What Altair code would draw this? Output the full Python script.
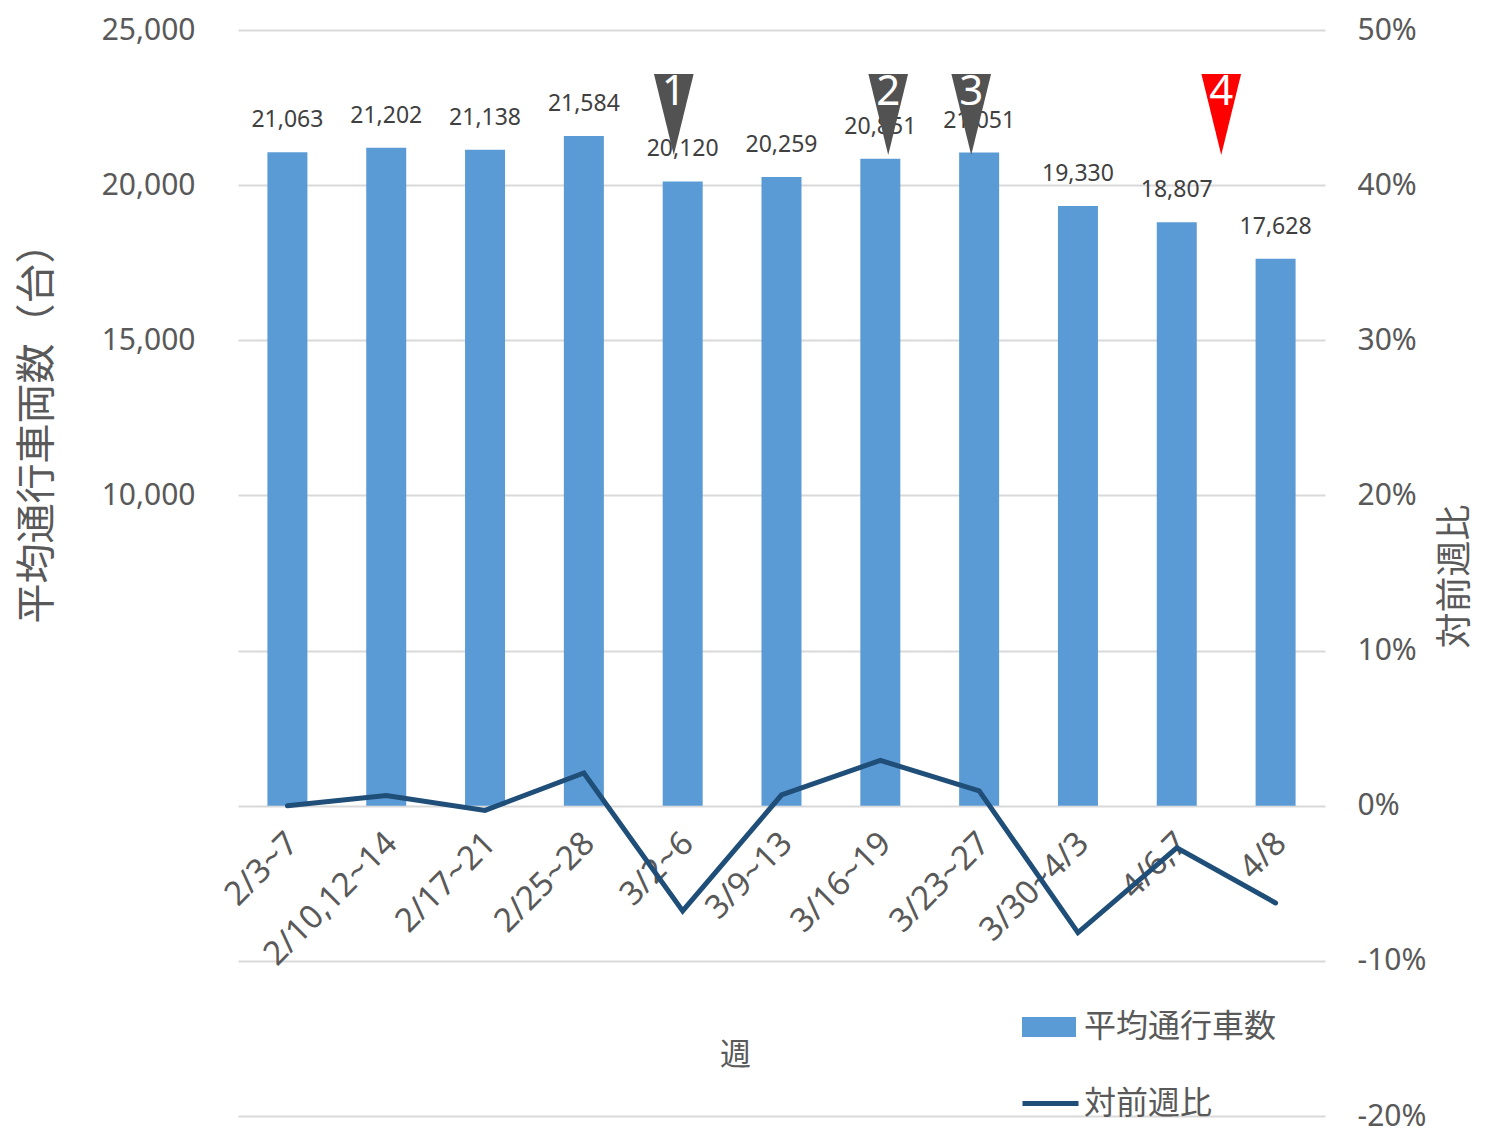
import altair as alt
import pandas as pd

# ---- data ----
weeks = ["2/3~7", "2/10,12~14", "2/17~21", "2/25~28", "3/2~6", "3/9~13",
         "3/16~19", "3/23~27", "3/30~4/3", "4/6,7", "4/8"]
avg_vehicles = [21063, 21202, 21138, 21584, 20120, 20259, 20851, 21051, 19330, 18807, 17628]
wow_change = [0.0, 0.0066, -0.0030, 0.0211, -0.0678, 0.0069, 0.0292, 0.0096, -0.0818, -0.0271, -0.0627]
event_labels = ["1", "2", "3", "4"]
event_positions = [3.91, 6.08, 6.92, 9.45]   # in week-index units
bar_series = "平均通行車数"
line_series = "対前週比"

FONT = "Noto Sans, Noto Sans CJK JP"
GREY = "#595959"
W, H = 1087, 1086
Y_DOMAIN = [-10000, 25000]
R_DOMAIN = [-0.2, 0.5]
MARKER_LEVEL = 22275
MARKER_TEXT_LEVEL = 23000

y0 = H * Y_DOMAIN[1] / (Y_DOMAIN[1] - Y_DOMAIN[0])
x_axis_offset = -(H - y0)

df = pd.DataFrame({
    "x": list(range(len(weeks))),
    "week": weeks,
    "value": avg_vehicles,
    "wow": wow_change,
    "s1": bar_series,
    "s2": line_series,
})
ev = pd.DataFrame({"x": event_positions, "label": event_labels})

label_expr = "[" + ",".join("'" + w + "'" for w in weeks) + "][datum.value]"

x_scale = alt.Scale(domain=[-0.5, len(weeks) - 0.5], nice=False, zero=False, padding=0)
x_axis = alt.Axis(
    values=list(range(len(weeks))), labelExpr=label_expr, labelAngle=-45,
    labelAlign="right", labelBaseline="middle", labelPadding=32, labelOffset=5,
    labelFontSize=33, labelColor=GREY, labelOverlap=False, labelFlush=False,
    labelBound=False, domain=False, ticks=False, grid=False, offset=x_axis_offset,
    title="週", titleFontSize=31, titleColor=GREY, titleFontWeight="normal",
    titleX=497, titleY=250, titleAlign="center", titleBaseline="middle",
)
X = alt.X("x:Q", scale=x_scale, axis=x_axis)

y_scale = alt.Scale(domain=Y_DOMAIN, nice=False, zero=False)
y_axis = alt.Axis(
    orient="left", values=[10000, 15000, 20000, 25000],
    labelExpr="format(datum.value, ',')",
    labelFontSize=30, labelColor=GREY, labelPadding=43,
    domain=False, ticks=False, grid=False,
    title="平均通行車両数（台）", titleFontSize=40, titleColor=GREY,
    titleFontWeight="normal", titleAngle=270, titleX=-201, titleY=393,
    titleAlign="center", titleBaseline="middle",
)
Y = alt.Y("value:Q", scale=y_scale, axis=y_axis)

bars = alt.Chart(df).mark_bar(size=40).encode(
    x=X, y=Y,
    color=alt.Color("s1:N", scale=alt.Scale(range=["#5B9BD5"]),
                    legend=alt.Legend(orient="none", legendX=784, legendY=970, title=None,
                                      symbolType="M-1,-0.37H1V0.37H-1Z", symbolSize=2916,
                                      symbolStrokeWidth=0, labelFontSize=32, labelColor=GREY,
                                      labelFont=FONT, labelOffset=8, labelLimit=0)),
)

labels = alt.Chart(df).mark_text(baseline="bottom", dy=-20, fontSize=23, color="#404040").encode(
    x=X, y=Y, text=alt.Text("value:Q", format=",")
)

markers = alt.Chart(ev).mark_point(
    shape="M-0.49,-1L0.49,-1L0,1Z", size=6561, filled=True, opacity=1, strokeWidth=0
).encode(
    x=X,
    y=alt.Y(datum=MARKER_LEVEL, scale=y_scale, axis=y_axis),
    color=alt.condition("datum.label == '4'", alt.value("#FF0000"), alt.value("#525252")),
)

marker_text = alt.Chart(ev).mark_text(fontSize=42, color="white", baseline="middle").encode(
    x=X,
    y=alt.Y(datum=MARKER_TEXT_LEVEL, scale=y_scale, axis=y_axis),
    text="label:N",
)

line = alt.Chart(df).mark_line(strokeWidth=5, strokeCap="round").encode(
    x=X,
    y=alt.Y("wow:Q", scale=alt.Scale(domain=R_DOMAIN, nice=False, zero=False),
            axis=alt.Axis(orient="right", values=[-0.2, -0.1, 0, 0.1, 0.2, 0.3, 0.4, 0.5],
                          labelExpr="replace(format(datum.value, '.0%'), '\u2212', '-')",
                          labelFontSize=30, labelColor=GREY, labelPadding=32,
                          domain=False, ticks=False, grid=True, gridColor="#D9D9D9", gridWidth=2,
                          title="対前週比", titleFontSize=36, titleColor=GREY,
                          titleFontWeight="normal", titleAngle=270, titleX=130, titleY=546,
                          titleAlign="center", titleBaseline="middle")),
    stroke=alt.Stroke("s2:N", scale=alt.Scale(range=["#1F4E79"]),
                      legend=alt.Legend(orient="none", legendX=782, legendY=1043, title=None,
                                        symbolType="stroke", symbolSize=3136,
                                        symbolStrokeWidth=5, labelFontSize=32, labelColor=GREY,
                                        labelFont=FONT, labelOffset=3, labelLimit=0)),
)

chart = alt.layer(
    alt.layer(bars, labels, markers, marker_text), line
).resolve_scale(y="independent").properties(
    width=W, height=H,
    autosize=alt.AutoSizeParams(type="none"),
    padding={"left": 230, "top": 22, "right": 153, "bottom": 17},
).configure(font=FONT).configure_view(stroke=None)

chart.save("out.html", embed_options={"renderer": "svg", "actions": False})
